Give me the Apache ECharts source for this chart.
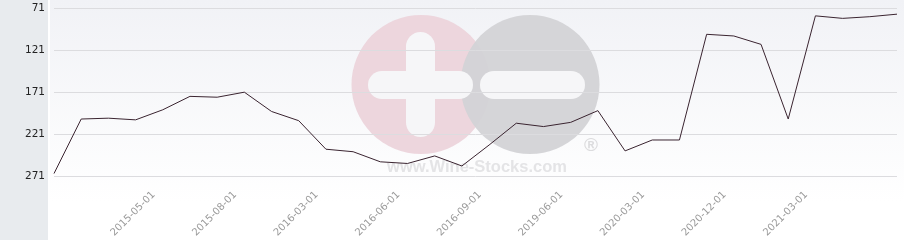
<!DOCTYPE html>
<html>
<head>
<meta charset="utf-8">
<script src="https://cdn.jsdelivr.net/npm/echarts@6/dist/echarts.min.js"></script>
<style>
html,body{margin:0;padding:0;background:#ffffff;}
#chart{width:904px;height:240px;}
</style>
</head>
<body>
<div id="chart"></div>
<script>
// Dates of each data point (only every third one is labelled on the axis)
var categories = [
  '2015-01-01','2015-02-01','2015-03-01','2015-04-01','2015-05-01','2015-06-01',
  '2015-07-01','2015-08-01','2015-10-01','2015-12-01','2016-03-01','2016-04-01',
  '2016-05-01','2016-06-01','2016-07-01','2016-08-01','2016-09-01','2018-12-01',
  '2019-03-01','2019-06-01','2019-09-01','2019-12-01','2020-03-01','2020-06-01',
  '2020-09-01','2020-12-01','2021-01-01','2021-02-01','2021-03-01','2021-04-01',
  '2021-05-01','2021-06-01'
];
// Dates that carry a visible axis label
var labelledDates = [
  '2015-05-01','2015-08-01','2016-03-01','2016-06-01','2016-09-01',
  '2019-06-01','2020-03-01','2020-12-01','2021-03-01'
];
// Ranking values (lower is better, axis is inverted)
var rankValues = [
  268, 203, 202, 204, 192, 176, 177, 171, 194, 205, 239, 242,
  254, 256, 247, 259, 234, 208, 212, 207, 193, 241, 228, 228,
  102, 104, 114, 203, 80, 83, 81, 78
];
var yTicks = [71, 121, 171, 221, 271];

var chart = echarts.init(document.getElementById('chart'), null, {renderer: 'canvas'});
var option = {
  animation: false,
  backgroundColor: '#ffffff',
  graphic: [
    {type: 'rect', z: -20, silent: true, shape: {x: 0, y: 0, width: 48, height: 240}, style: {fill: '#e8ebee'}},
    {type: 'rect', z: -20, silent: true, shape: {x: 50, y: 0, width: 854, height: 202},
      style: {fill: new echarts.graphic.LinearGradient(0, 0, 0, 1, [
        {offset: 0, color: '#f1f2f6'}, {offset: 1, color: '#ffffff'}])}},
    {type: 'circle', z: -10, silent: true, shape: {cx: 421, cy: 84.5, r: 69.5}, style: {fill: '#ecd4db', opacity: 0.95}},
    {type: 'circle', z: -9, silent: true, shape: {cx: 530, cy: 84.5, r: 69.5}, style: {fill: '#d3d3d6', opacity: 0.95}},
    {type: 'rect', z: -8, silent: true, shape: {x: 406, y: 32, width: 29, height: 105, r: 14.5}, style: {fill: '#f6f6f8'}},
    {type: 'rect', z: -8, silent: true, shape: {x: 368, y: 71, width: 105, height: 28, r: 14}, style: {fill: '#f6f6f8'}},
    {type: 'rect', z: -8, silent: true, shape: {x: 480, y: 71, width: 105, height: 28, r: 14}, style: {fill: '#f6f6f8'}},
    {type: 'text', z: -8, silent: true, x: 477, y: 167,
      style: {text: 'www.Wine-Stocks.com', font: 'bold 16.5px "Liberation Sans", Arial, sans-serif',
        fill: '#e4e4e6', align: 'center', verticalAlign: 'middle'}},
    {type: 'text', z: -8, silent: true, x: 591, y: 146,
      style: {text: '\u00AE', font: 'bold 19px "Liberation Sans", Arial, sans-serif',
        fill: '#dcdcde', align: 'center', verticalAlign: 'middle'}}
  ],
  grid: {left: 54, right: 7, top: 8.3, bottom: 61.7, containLabel: false},
  xAxis: {
    type: 'category',
    data: categories,
    boundaryGap: false,
    axisLine: {show: false},
    axisTick: {show: false},
    splitLine: {show: false},
    axisLabel: {
      interval: function (index, value) { return labelledDates.indexOf(value) >= 0; },
      rotate: 45,
      margin: 8,
      padding: [0, 13, 0, 0],
      color: '#9a9a9a',
      fontSize: 10,
      fontFamily: 'DejaVu Sans'
    }
  },
  yAxis: {
    type: 'value',
    inverse: true,
    min: yTicks[0],
    max: yTicks[yTicks.length - 1],
    interval: 50,
    axisLine: {show: false},
    axisTick: {show: false},
    splitLine: {show: true, lineStyle: {color: '#dcdcdf', width: 1}},
    axisLabel: {
      margin: 9,
      color: '#222222',
      fontSize: 10.5,
      fontFamily: 'DejaVu Sans'
    }
  },
  series: [{
    type: 'line',
    data: rankValues,
    showSymbol: false,
    symbol: 'none',
    lineStyle: {color: '#3a2430', width: 1},
    z: 5
  }]
};
chart.setOption(option);
</script>
</body>
</html>
